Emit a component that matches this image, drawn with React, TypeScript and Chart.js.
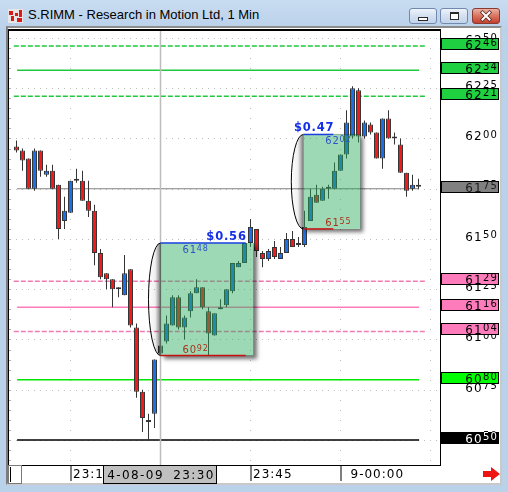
import { useEffect, useRef } from 'react';
import { Chart, registerables } from 'chart.js';

Chart.register(...registerables);

// One-minute bars for S.RIMM, prices in cents (6175 = $61.75). Bar 0 is 23:06.
const opens = [
  6196, 6194, 6190, 6175, 6194, 6182, 6184, 6177, 6159, 6163,
  6180, 6179, 6169, 6164, 6143, 6133, 6130, 6126, 6122, 6135,
  6106, 6074, 6059, 6063, 6093, 6099, 6107, 6121, 6106, 6114,
  6123, 6126, 6114, 6102, 6115, 6117, 6124, 6136, 6138, 6148,
  6155, 6143, 6140, 6146, 6140, 6143, 6150, 6148, 6147, 6159,
  6172, 6169, 6175, 6175, 6184, 6192, 6201, 6224, 6201, 6207,
  6203, 6190, 6210, 6200, 6197, 6183, 6175, 6176,
];
const highs = [
  6199, 6195, 6190, 6195, 6194, 6187, 6187, 6177, 6171, 6179,
  6185, 6184, 6179, 6167, 6145, 6133, 6130, 6126, 6142, 6135,
  6108, 6075, 6063, 6090, 6098, 6112, 6122, 6122, 6112, 6124,
  6130, 6126, 6116, 6113, 6120, 6125, 6138, 6139, 6148, 6160,
  6155, 6144, 6145, 6149, 6146, 6153, 6154, 6151, 6164, 6175,
  6177, 6176, 6177, 6188, 6192, 6214, 6226, 6225, 6209, 6208,
  6203, 6210, 6214, 6203, 6200, 6183, 6182, 6180,
];
const lows = [
  6193, 6184, 6175, 6174, 6181, 6181, 6175, 6150, 6155, 6163,
  6178, 6169, 6161, 6137, 6130, 6125, 6116, 6121, 6122, 6106,
  6071, 6054, 6050, 6056, 6092, 6098, 6107, 6105, 6100, 6111,
  6123, 6115, 6092, 6102, 6115, 6116, 6123, 6136, 6138, 6146,
  6141, 6136, 6139, 6140, 6140, 6143, 6146, 6146, 6146, 6159,
  6168, 6169, 6170, 6175, 6184, 6190, 6200, 6198, 6200, 6202,
  6190, 6185, 6200, 6197, 6183, 6171, 6174, 6175,
];
const closes = [
  6194, 6189, 6175, 6194, 6184, 6184, 6175, 6155, 6164, 6179,
  6179, 6169, 6164, 6143, 6131, 6130, 6125, 6125, 6133, 6107,
  6074, 6061, 6060, 6090, 6097, 6108, 6121, 6106, 6111, 6123,
  6126, 6116, 6103, 6113, 6116, 6125, 6138, 6138, 6148, 6156,
  6144, 6140, 6144, 6141, 6143, 6150, 6146, 6147, 6156, 6171,
  6168, 6175, 6176, 6184, 6192, 6208, 6225, 6201, 6208, 6203,
  6190, 6210, 6200, 6200, 6183, 6174, 6177, 6177,
];

// Time axis
const timeTickBars = [9, 39, 54];
const timeTickLabels = ['23:15', '23:45', '9-00:00'];
const timeGridBars = [9, 24, 39, 54, 69];
const cursorBar = 24;
const cursorLabel = '4-08-09 23:30';

// Price axis
const priceTicks = [6050, 6075, 6100, 6125, 6150, 6175, 6200, 6225, 6250];
const levelPrices = [6246, 6234, 6221, 6175, 6129, 6116, 6104, 6080, 6050];

// Measured ranges (bar index span, high / low)
const rangeFrom = [24, 47.8];
const rangeTo = [39.5, 57.3];
const rangeLineTo = [38.2, 52.8];
const rangeHigh = [6148, 6202];
const rangeLow = [6092, 6155];

const GREEN = '#1fc83c';
const PINK = '#ff7cbc';
const levelStyles = [
  { line: GREEN, dash: [5, 2], fill: '#1fd040', text: '#000' },
  { line: GREEN, dash: [], fill: '#1fd040', text: '#000' },
  { line: GREEN, dash: [5, 2], fill: '#1fd040', text: '#000' },
  { line: '#808080', dash: [], fill: '#808080', text: '#1a1a1a' },
  { line: '#f07ab2', dash: [5, 2], fill: PINK, text: '#000' },
  { line: PINK, dash: [], fill: PINK, text: '#000' },
  { line: '#f07ab2', dash: [5, 2], fill: PINK, text: '#000' },
  { line: '#00e600', dash: [], fill: '#00ff00', text: '#000' },
  { line: '#000000', dash: [], fill: '#000000', text: '#ffffff' },
];

const FONT = '"DejaVu Sans", sans-serif';

function splitPrice(
  ctx: CanvasRenderingContext2D,
  value: number,
  x: number,
  baseline: number,
  align: 'left' | 'right',
  big: number,
  small: number,
  raise: number,
  spacing: number,
  color: string,
) {
  const s = String(value);
  const head = s.slice(0, 2);
  const tail = s.slice(2);
  const c: any = ctx;
  c.letterSpacing = spacing + 'px';
  ctx.textAlign = 'left';
  ctx.textBaseline = 'alphabetic';
  ctx.font = `${small}px ${FONT}`;
  const wt = ctx.measureText(tail).width;
  ctx.font = `${big}px ${FONT}`;
  const wh = ctx.measureText(head).width;
  const x0 = align === 'right' ? x - wh - wt : x;
  ctx.fillStyle = color;
  ctx.fillText(head, x0, baseline);
  ctx.font = `${small}px ${FONT}`;
  ctx.fillText(tail, x0 + wh, baseline - raise);
  c.letterSpacing = '0px';
}

const decor = {
  id: 'decor',
  beforeDatasetsDraw(chart: any) {
    const { ctx, chartArea: a } = chart;
    const xs = chart.scales.x;
    const ys = chart.scales.y;
    ctx.save();
    // dotted price rows at the labelled ticks
    ctx.fillStyle = '#bdbdbd';
    for (const p of priceTicks) {
      const y = Math.round(ys.getPixelForValue(p));
      for (let k = -1; k <= 70; k++) {
        ctx.fillRect(Math.floor(xs.getPixelForValue(k)), y, 1, 1);
      }
    }
    // dotted time columns, one dot every 5 cents
    for (const b of timeGridBars) {
      const x = Math.floor(xs.getPixelForValue(b));
      for (let p = 6040; p <= 6250; p += 5) {
        ctx.fillRect(x, Math.round(ys.getPixelForValue(p)), 1, 1);
      }
    }
    // short marks on the left edge
    ctx.fillStyle = '#b0b0b0';
    for (let p = 6040; p <= 6250; p += 5) {
      ctx.fillRect(a.left + 1, Math.round(ys.getPixelForValue(p)), 2, 1);
    }
    // horizontal price levels
    levelPrices.forEach((p, i) => {
      const st = levelStyles[i];
      const dashed = st.dash.length > 0;
      const x1 = xs.getPixelForValue(dashed ? -0.45 : 0.1);
      const x2 = xs.getPixelForValue(dashed ? 68.3 : 67.1);
      const y = ys.getPixelForValue(p);
      ctx.beginPath();
      ctx.setLineDash(st.dash);
      ctx.strokeStyle = st.line;
      ctx.lineWidth = p === 6175 ? 1.2 : 1.5;
      ctx.moveTo(x1, y);
      ctx.lineTo(x2, y);
      ctx.stroke();
    });
    ctx.setLineDash([]);
    ctx.restore();
  },
  afterDatasetsDraw(chart: any) {
    const { ctx, chartArea: a, width: W, height: H } = chart;
    const xs = chart.scales.x;
    const ys = chart.scales.y;
    ctx.save();

    // cursor line
    const cx = xs.getPixelForValue(cursorBar);
    ctx.strokeStyle = '#bdbdbd';
    ctx.lineWidth = 1.5;
    ctx.beginPath();
    ctx.moveTo(cx, a.top);
    ctx.lineTo(cx, a.bottom);
    ctx.stroke();

    // measured ranges drawn as shaded cylinders
    rangeHigh.forEach((hi, i) => {
      const lo = rangeLow[i];
      const left = xs.getPixelForValue(rangeFrom[i]);
      const right = xs.getPixelForValue(rangeTo[i]);
      const lineEnd = xs.getPixelForValue(rangeLineTo[i]);
      const top = ys.getPixelForValue(hi);
      const bottom = ys.getPixelForValue(lo);
      const w = right - left;
      const h = bottom - top;

      // drop shadow outside the body only
      ctx.save();
      ctx.beginPath();
      ctx.rect(0, 0, W, H);
      ctx.rect(left, top, w, h);
      ctx.clip('evenodd');
      ctx.shadowColor = 'rgba(0,0,0,0.55)';
      ctx.shadowBlur = 4;
      ctx.shadowOffsetX = 3;
      ctx.shadowOffsetY = 3;
      ctx.fillStyle = '#000';
      ctx.fillRect(left, top, w, h);
      ctx.restore();

      ctx.fillStyle = 'rgba(40,170,90,0.45)';
      ctx.fillRect(left, top, w, h);

      // left cap
      const cy = (top + bottom) / 2;
      const ry = h / 2;
      const rx = 12;
      ctx.beginPath();
      ctx.ellipse(left, cy, rx, ry, 0, Math.PI / 2, Math.PI * 1.5);
      ctx.closePath();
      const g = ctx.createLinearGradient(left - rx, 0, left, 0);
      g.addColorStop(0, 'rgba(0,0,0,0)');
      g.addColorStop(0.55, 'rgba(0,0,0,0.06)');
      g.addColorStop(1, 'rgba(0,0,0,0.5)');
      ctx.fillStyle = g;
      ctx.fill();
      ctx.beginPath();
      ctx.ellipse(left, cy, rx, ry, 0, Math.PI / 2, Math.PI * 1.5);
      ctx.strokeStyle = '#000';
      ctx.lineWidth = 1;
      ctx.stroke();

      // high and low rails
      ctx.lineWidth = 1.5;
      ctx.strokeStyle = '#1a3fe0';
      ctx.beginPath();
      ctx.moveTo(left, top);
      ctx.lineTo(lineEnd, top);
      ctx.stroke();
      ctx.strokeStyle = '#c81010';
      ctx.beginPath();
      ctx.moveTo(left, bottom);
      ctx.lineTo(lineEnd, bottom);
      ctx.stroke();

      // size of the range in dollars
      const c: any = ctx;
      c.letterSpacing = '0.8px';
      ctx.font = `bold 11.5px ${FONT}`;
      ctx.textAlign = 'right';
      ctx.textBaseline = 'alphabetic';
      ctx.fillStyle = '#1530e6';
      ctx.fillText('$' + ((hi - lo) / 100).toFixed(2), lineEnd + 1, top - 3);
      c.letterSpacing = '0px';

      splitPrice(ctx, hi, left + 22, top + 9.5, 'left', 10, 8, 2, 0.8, '#2f52c8');
      splitPrice(ctx, lo, left + 22, bottom - 3, 'left', 10, 8, 2, 0.8, '#a8341c');
    });

    // plot frame
    ctx.fillStyle = '#000';
    ctx.fillRect(a.left, a.top - 1, a.right - a.left + 1, 2);
    ctx.fillRect(a.left, a.top, 1, a.bottom - a.top);
    ctx.fillRect(a.right, a.top, 1, a.bottom - a.top);
    ctx.fillRect(a.left, a.bottom, a.right - a.left + 1, 1);

    // right price scale
    for (const p of priceTicks) {
      const y = ys.getPixelForValue(p);
      splitPrice(ctx, p, 498, Math.max(y + 2, a.top + 13.5), 'right', 12, 10, 2.5, 1.2, '#000');
    }
    levelPrices.forEach((p, i) => {
      const st = levelStyles[i];
      const y = Math.round(ys.getPixelForValue(p));
      ctx.fillStyle = st.fill;
      ctx.fillRect(a.right + 1, y - 8, 58, 12);
      ctx.strokeStyle = '#000';
      ctx.lineWidth = 1;
      ctx.strokeRect(a.right + 1.5, y - 7.5, 57, 11);
      splitPrice(ctx, p, 498, y + 2.5, 'right', 12, 10, 2.5, 1.2, st.text);
    });

    // time scale
    const c: any = ctx;
    ctx.font = `12px ${FONT}`;
    ctx.textAlign = 'left';
    ctx.textBaseline = 'alphabetic';
    c.letterSpacing = '1px';
    timeTickBars.forEach((b, i) => {
      const x = Math.round(xs.getPixelForValue(b)) - 0.5;
      ctx.fillStyle = '#000';
      ctx.fillRect(x, a.bottom + 1, 1, 15);
      const label = timeTickLabels[i];
      ctx.fillText(label, x + (label.includes('-') ? 10 : 2.5), a.bottom + 13);
    });
    // cursor time box
    const bw = 114;
    const bx = Math.round(cx) - 58;
    ctx.fillStyle = '#c0c0c0';
    ctx.fillRect(bx, a.bottom + 1, bw, 17);
    ctx.strokeStyle = '#000';
    ctx.strokeRect(bx + 0.5, a.bottom + 0.5, bw - 1, 18);
    ctx.fillStyle = '#000';
    ctx.textAlign = 'center';
    c.letterSpacing = '1.4px';
    c.wordSpacing = '4px';
    ctx.fillText(cursorLabel, bx + bw / 2 + 1, a.bottom + 14);
    c.wordSpacing = '0px';
    c.letterSpacing = '0px';

    // scroll box at the lower left
    ctx.strokeStyle = '#7a7a7a';
    ctx.strokeRect(a.left + 0.5, a.bottom + 0.5, 13, 18);
    ctx.fillStyle = '#000';
    ctx.fillRect(a.left + 2, a.bottom + 2, 1, 15);

    // red arrow at the lower right
    ctx.fillStyle = '#ee1414';
    ctx.beginPath();
    ctx.moveTo(483, 471);
    ctx.lineTo(491, 471);
    ctx.lineTo(491, 467);
    ctx.lineTo(500, 474);
    ctx.lineTo(491, 481);
    ctx.lineTo(491, 477);
    ctx.lineTo(483, 477);
    ctx.closePath();
    ctx.fill();

    ctx.restore();
  },
};

export default function App() {
  const canvasRef = useRef<HTMLCanvasElement>(null);

  useEffect(() => {
    const canvas = canvasRef.current;
    if (!canvas) return;
    const idx = opens.map((_, i) => i);
    const bodyColors = opens.map((o, i) =>
      closes[i] > o ? '#1d6fe6' : closes[i] < o ? '#ee1c1c' : '#707070',
    );
    const chart = new Chart(canvas, {
      type: 'bar',
      data: {
        datasets: [
          {
            label: 'body',
            data: idx.map((i) => ({ x: i, y: [opens[i], closes[i]] })) as any,
            backgroundColor: bodyColors,
            borderColor: '#363636',
            borderWidth: 1,
            borderSkipped: false,
            barThickness: 5,
            minBarLength: 2,
            inflateAmount: 0,
            grouped: false,
            order: 0,
          } as any,
          {
            label: 'wick',
            data: idx.map((i) => ({ x: i, y: [lows[i], highs[i]] })) as any,
            backgroundColor: '#363636',
            borderWidth: 0,
            barThickness: 1,
            inflateAmount: 0,
            grouped: false,
            order: 1,
          } as any,
        ],
      },
      options: {
        responsive: false,
        animation: false,
        devicePixelRatio: 1,
        events: [],
        layout: { padding: { left: 8, top: 30, right: 68, bottom: 27 } },
        scales: {
          x: { type: 'linear', min: -17 / 12, max: 847 / 12, offset: false, display: false },
          y: { type: 'linear', min: 6037.56, max: 6253.98, display: false },
        },
        plugins: { legend: { display: false }, tooltip: { enabled: false } },
      } as any,
      plugins: [decor],
    });
    return () => chart.destroy();
  }, []);

  const btnBase: any = {
    position: 'absolute',
    top: 8,
    width: 28,
    height: 16,
    boxSizing: 'border-box',
    borderRadius: 3,
  };

  return (
    <div
      style={{
        position: 'fixed',
        left: 0,
        top: 0,
        width: 508,
        height: 492,
        overflow: 'hidden',
        background: 'linear-gradient(#c8dcf1 0px, #bad1ea 30px, #bad1ea 100%)',
      }}
    >
      {/* window icon */}
      <div style={{ position: 'absolute', left: 8, top: 9, width: 15, height: 14, background: '#e6e6e6' }}>
        <div style={{ position: 'absolute', left: 1, top: 2, width: 4, height: 4, background: '#d81a1a' }} />
        <div style={{ position: 'absolute', left: 3, top: 7, width: 3, height: 5, background: '#d81a1a' }} />
        <div style={{ position: 'absolute', left: 7, top: 4, width: 3, height: 3, background: '#d81a1a' }} />
        <div style={{ position: 'absolute', left: 11, top: 1, width: 3, height: 7, background: '#d81a1a' }} />
        <div style={{ position: 'absolute', left: 9, top: 9, width: 5, height: 4, background: '#d81a1a' }} />
      </div>
      <div
        style={{
          position: 'absolute',
          left: 28,
          top: 7,
          font: '13px "Liberation Sans", Arial, sans-serif',
          lineHeight: '16px',
          color: '#000',
          whiteSpace: 'nowrap',
        }}
      >
        S.RIMM - Research in Motion Ltd, 1 Min
      </div>
      {/* caption buttons */}
      <div style={{ ...btnBase, left: 409, border: '1px solid #7089ad', background: 'linear-gradient(#eef3fa, #d3e0f0 50%, #c2d4ea)' }}>
        <div style={{ position: 'absolute', left: 8, top: 8, width: 10, height: 4, boxSizing: 'border-box', border: '1px solid #2a2a2a', background: '#fff' }} />
      </div>
      <div style={{ ...btnBase, left: 440, border: '1px solid #7089ad', background: 'linear-gradient(#eef3fa, #d3e0f0 50%, #c2d4ea)' }}>
        <div style={{ position: 'absolute', left: 9, top: 3, width: 9, height: 8, boxSizing: 'border-box', border: '1px solid #2a2a2a', borderTopWidth: 2, background: '#fff' }} />
      </div>
      <div style={{ ...btnBase, left: 472, border: '1px solid #8a3a30', background: 'linear-gradient(#eab0a4, #d8735f 50%, #c4412f)' }}>
        <svg width="26" height="14" style={{ position: 'absolute', left: 0, top: 0 }}>
          <path d="M9.5 3.5 L16.5 10.5 M16.5 3.5 L9.5 10.5" stroke="#5a2a24" strokeWidth="3.6" strokeLinecap="square" />
          <path d="M9.5 3.5 L16.5 10.5 M16.5 3.5 L9.5 10.5" stroke="#ffffff" strokeWidth="2" strokeLinecap="square" />
        </svg>
      </div>
      {/* client area */}
      <div
        style={{
          position: 'absolute',
          left: 6,
          top: 26,
          width: 492,
          height: 455,
          borderStyle: 'solid',
          borderWidth: 2,
          borderColor: '#8c8c8c #c9c9c9 #c9c9c9 #7c7c7c',
          background: '#ffffff',
        }}
      />
      <canvas
        ref={canvasRef}
        width={508}
        height={492}
        style={{ position: 'absolute', left: 0, top: 0, width: 508, height: 492 }}
      />
    </div>
  );
}
